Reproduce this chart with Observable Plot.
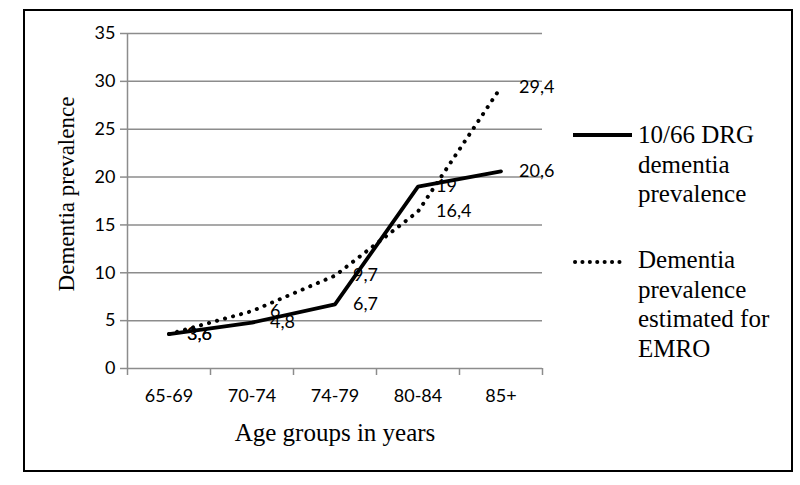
<!DOCTYPE html>
<html>
<head>
<meta charset="utf-8">
<script src="https://cdn.jsdelivr.net/npm/d3@7"></script>
<script src="https://cdn.jsdelivr.net/npm/@observablehq/plot@0.6"></script>
<style>
  html, body { margin: 0; padding: 0; background: #fff; }
  #wrap { position: relative; width: 800px; height: 485px; overflow: hidden; }
  #frame { position: absolute; left: 23px; top: 9px; width: 766px; height: 459px; border: 2px solid #000; pointer-events: none; }
  #legend { position: absolute; left: 573px; top: 0; }
  .item { position: absolute; left: 0; display: flex; align-items: flex-start; white-space: nowrap; font-family: "Liberation Serif", "Times New Roman", serif; font-size: 25px; line-height: 29.5px; color: #000; }
  .item svg { margin-right: 6px; flex: none; }
</style>
</head>
<body>
<div id="wrap">
  <div id="chart"></div>
  <div id="frame"></div>
  <div id="legend"></div>
</div>
<script>
const categories = ["65-69", "70-74", "74-79", "80-84", "85+"];
const drgValues = [3.6, 4.8, 6.7, 19, 20.6];
const emroValues = [3.6, 6, 9.7, 16.4, 29.4];
const yTicks = [0, 5, 10, 15, 20, 25, 30, 35];
const seriesNames = ["10/66 DRG dementia prevalence", "Dementia prevalence estimated for EMRO"];
const labelFmt = v => String(v).replace(".", ",");

const drg = categories.map((c, i) => ({i, cat: c, v: drgValues[i]}));
const emro = categories.map((c, i) => ({i, cat: c, v: emroValues[i]}));
const boundaries = d3.range(categories.length + 1).map(k => k - 0.5);

const tickFont = "Lato, 'Open Sans', sans-serif";
const serif = "'Liberation Serif', 'Times New Roman', serif";
const grey = "#8c8c8c";

const plot = Plot.plot({
  width: 800,
  height: 485,
  marginLeft: 127,
  marginRight: 258,
  marginTop: 33,
  marginBottom: 117,
  style: {fontFamily: tickFont, fontSize: "18px", color: "#000", background: "transparent"},
  x: {type: "linear", domain: [-0.5, categories.length - 0.5], axis: null},
  y: {domain: [0, 35], axis: null},
  marks: [
    Plot.ruleY(yTicks, {y: d => d, stroke: grey, strokeWidth: 1.5}),
    Plot.ruleX([-0.5], {y1: 0, y2: 35, stroke: grey, strokeWidth: 1.5}),
    Plot.axisY({ticks: yTicks, tickSize: 7, tickPadding: 5, stroke: grey, strokeWidth: 1.5, label: null, fontSize: 18, fill: "#000"}),
    Plot.axisX({ticks: boundaries, tickSize: 7, tickFormat: () => "", stroke: grey, strokeWidth: 1.5, label: null}),
    Plot.axisX({ticks: d3.range(categories.length), tickSize: 0, tickPadding: 21, tickFormat: i => categories[i], label: null, fontSize: 18, fill: "#000"}),
    Plot.line(emro, {x: "i", y: "v", stroke: "#000", strokeWidth: 4, strokeDasharray: "0.1 8.2", strokeLinecap: "round"}),
    Plot.line(drg, {x: "i", y: "v", stroke: "#000", strokeWidth: 3.8, strokeLinejoin: "miter"}),
    Plot.text(emro, {x: "i", y: "v", text: d => labelFmt(d.v), dx: 18, textAnchor: "start", lineAnchor: "middle", fontSize: 18, fill: "#000"}),
    Plot.text(drg, {x: "i", y: "v", text: d => labelFmt(d.v), dx: 18, textAnchor: "start", lineAnchor: "middle", fontSize: 18, fill: "#000"}),
    Plot.text(["Age groups in years"], {frameAnchor: "bottom", dy: 64, text: d => d, fontFamily: serif, fontSize: 25, fill: "#000", lineAnchor: "middle", textAnchor: "middle"}),
    Plot.text(["Dementia prevalence"], {frameAnchor: "left", dx: -61, dy: -7, rotate: -90, text: d => d, fontFamily: serif, fontSize: 23, fill: "#000", lineAnchor: "middle", textAnchor: "middle"})
  ]
});
document.getElementById("chart").appendChild(plot);

// legend
const legend = document.getElementById("legend");
const items = [
  {top: 120, lines: ["10/66 DRG", "dementia", "prevalence"], dash: null, swTop: 11},
  {top: 245, lines: ["Dementia", "prevalence", "estimated for", "EMRO"], dash: "0.1 7.3", swTop: 13}
];
items.forEach((it, k) => {
  const div = document.createElement("div");
  div.className = "item";
  div.style.top = it.top + "px";
  const sw = d3.create("svg").attr("width", 59).attr("height", 8).style("margin-top", it.swTop + "px");
  sw.append("line").attr("x1", it.dash ? 2 : 0).attr("x2", it.dash ? 50 : 59).attr("y1", 4).attr("y2", 4)
    .attr("stroke", "#000").attr("stroke-width", it.dash ? 4 : 4)
    .attr("stroke-dasharray", it.dash).attr("stroke-linecap", it.dash ? "round" : "butt");
  div.appendChild(sw.node());
  const t = document.createElement("div");
  t.innerHTML = it.lines.join("<br>");
  t.setAttribute("aria-label", seriesNames[k]);
  div.appendChild(t);
  legend.appendChild(div);
});
</script>
</body>
</html>
